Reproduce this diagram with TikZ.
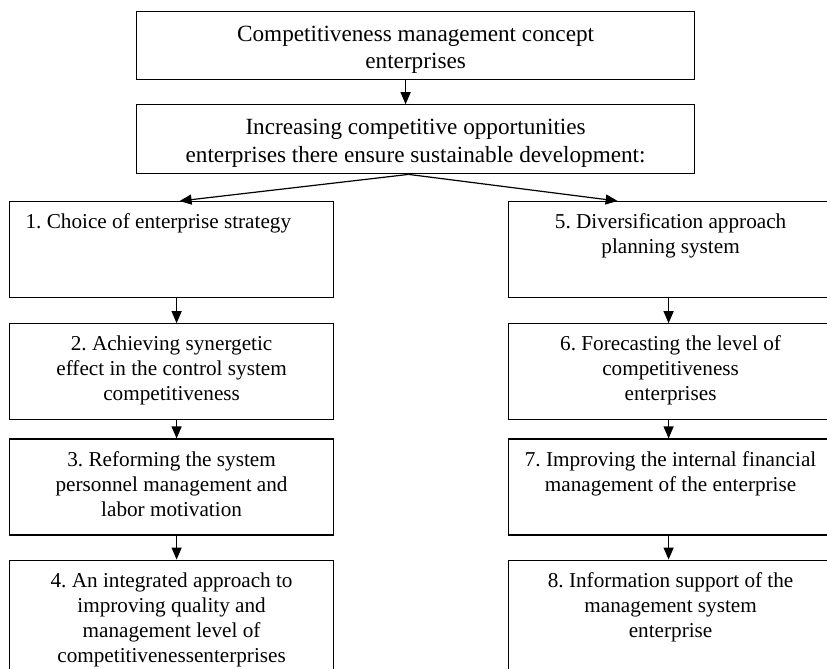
\documentclass[tikz,border=0pt]{standalone}
\usepackage{fontspec}
\setmainfont{Liberation Serif}
\usetikzlibrary{positioning,calc,arrows.meta}
\frenchspacing

% box contents: width, height, text (first line kept near the top)
\newcommand{\boxtext}[4][\centering]{\parbox[c][#3][t]{#2}{#1\rule{0pt}{1.28em}#4}}

\begin{document}
\begin{tikzpicture}[x=0.5pt,y=-0.5pt,>={Triangle[length=6pt,width=5pt]},
  stage/.style={draw, line width=0.6pt, inner sep=0pt, font=\fontsize{10.6}{12.5}\selectfont},
  head/.style={stage, font=\fontsize{11.6}{13.8}\selectfont},
  link/.style={->, line width=0.6pt}]
\useasboundingbox (0,0) rectangle (827,669);
\clip (0,0) rectangle (827,669);

\node[head, anchor=north west] (concept) at (136,11)
  {\boxtext{279pt}{34pt}{Competitiveness management concept\\enterprises}};
\node[head, below=12pt of concept] (growth)
  {\boxtext{279pt}{34.5pt}{Increasing competitive opportunities\\enterprises there ensure sustainable development:}};

% left column
\node[stage, anchor=north west] (strategy) at (9,201)
  {\boxtext[\raggedright\leftskip=8pt]{162pt}{48pt}{1. Choice of enterprise strategy}};
\node[stage, below=12.5pt of strategy] (synergy)
  {\boxtext{162pt}{48pt}{2. Achieving synergetic\\effect in the control system\\competitiveness}};
\node[stage, below=9pt of synergy] (personnel)
  {\boxtext{162pt}{48pt}{3. Reforming the system\\personnel management and\\labor motivation}};
\node[stage, below=12pt of personnel] (quality)
  {\boxtext{162pt}{70pt}{4. An integrated approach to\\improving quality and\\management level of\\competitivenessenterprises}};

% right column
\node[stage, anchor=north west] (planning) at (508,201)
  {\boxtext{162pt}{48pt}{5. Diversification approach\\planning system}};
\node[stage, below=12.5pt of planning] (forecast)
  {\boxtext{162pt}{48pt}{6. Forecasting the level of\\competitiveness\\enterprises}};
\node[stage, below=9pt of forecast] (finance)
  {\boxtext{162pt}{48pt}{7. Improving the internal financial\\management of the enterprise}};
\node[stage, below=12pt of finance] (info)
  {\boxtext{162pt}{70pt}{8. Information support of the\\management system\\enterprise}};

\draw[link] ($(concept.south)+(-10,0)$) -- ($(growth.north)+(-10,0)$);
\draw[link] ($(growth.south)+(-7,0)$) -- ($(strategy.north)+(8,0)$);
\draw[link] ($(growth.south)+(-7,0)$) -- ($(planning.north)+(-53,0)$);

\draw[link] ($(strategy.south)+(5,0)$) -- ($(synergy.north)+(5,0)$);
\draw[link] ($(synergy.south)+(5,0)$) -- ($(personnel.north)+(5,0)$);
\draw[link] ($(personnel.south)+(5,0)$) -- ($(quality.north)+(5,0)$);

\draw[link] ($(planning.south)+(-2,0)$) -- ($(forecast.north)+(-2,0)$);
\draw[link] ($(forecast.south)+(-2,0)$) -- ($(finance.north)+(-2,0)$);
\draw[link] ($(finance.south)+(-2,0)$) -- ($(info.north)+(-2,0)$);
\end{tikzpicture}
\end{document}
